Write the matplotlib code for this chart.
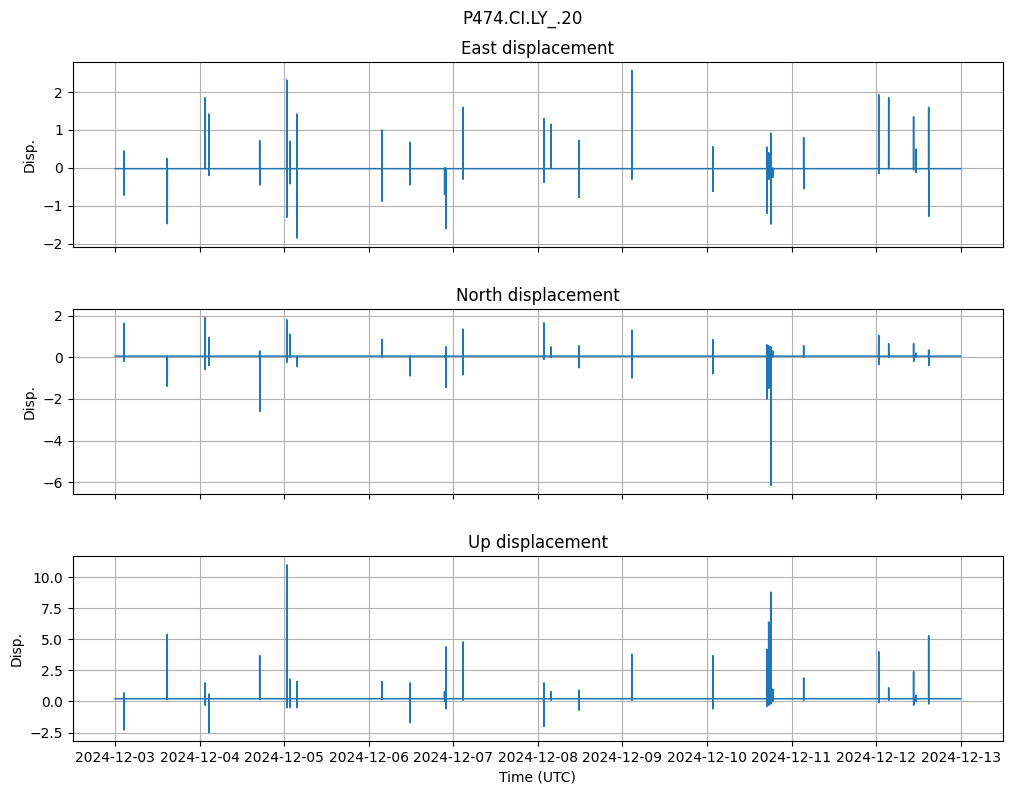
import matplotlib
matplotlib.use("Agg")
import matplotlib.pyplot as plt
import matplotlib.dates as mdates
import pandas as pd

station = "P474.CI.LY_.20"
start_time = "2024-12-03 00:00"
end_time = "2024-12-13 00:00"

# baseline level of each component
east_base = -0.02
north_base = 0.05
up_base = 0.22

# transient events (time, peak high, peak low per component)
event_times = [
    "2024-12-03 02:33", "2024-12-03 14:46", "2024-12-04 01:32", "2024-12-04 02:38",
    "2024-12-04 17:02", "2024-12-05 00:43", "2024-12-05 01:40", "2024-12-05 03:38",
    "2024-12-06 03:45", "2024-12-06 11:41", "2024-12-06 21:30", "2024-12-06 21:54",
    "2024-12-07 02:43", "2024-12-08 01:42", "2024-12-08 03:42", "2024-12-08 11:38",
    "2024-12-09 02:40", "2024-12-10 01:39", "2024-12-10 16:58", "2024-12-10 17:31",
    "2024-12-10 18:06", "2024-12-10 18:40", "2024-12-11 03:27", "2024-12-12 00:45",
    "2024-12-12 03:35", "2024-12-12 10:39", "2024-12-12 11:20", "2024-12-12 14:56",
]
east_hi = [0.45, 0.25, 1.85, 1.42, 0.72, 2.32, 0.70, 1.42,
           1.00, 0.68, 0.00, 0.00, 1.60, 1.30, 1.15, 0.73,
           2.57, 0.56, 0.55, 0.40, 0.92, 0.00, 0.80, 1.93,
           1.85, 1.35, 0.50, 1.60]
east_lo = [-0.72, -1.47, -0.02, -0.20, -0.45, -1.30, -0.42, -1.85,
           -0.88, -0.45, -0.70, -1.60, -0.30, -0.38, -0.02, -0.78,
           -0.30, -0.62, -1.20, -0.30, -1.48, -0.25, -0.55, -0.15,
           -0.02, -0.05, -0.12, -1.28]
north_hi = [1.63, 0.05, 1.90, 0.95, 0.30, 1.80, 1.10, 0.05,
            0.85, 0.05, 0.05, 0.50, 1.35, 1.65, 0.50, 0.55,
            1.30, 0.85, 0.60, 0.55, 0.50, 0.30, 0.55, 1.05,
            0.65, 0.65, 0.20, 0.35]
north_lo = [-0.20, -1.40, -0.60, -0.40, -2.60, -0.25, 0.00, -0.45,
            0.00, -0.90, 0.00, -1.45, -0.85, -0.10, 0.00, -0.50,
            -1.00, -0.80, -2.00, -1.50, -6.15, 0.00, 0.00, -0.35,
            0.00, -0.20, 0.00, -0.40]
up_hi = [0.70, 5.40, 1.50, 0.60, 3.70, 11.00, 1.80, 1.60,
         1.60, 1.50, 0.80, 4.40, 4.80, 1.50, 0.80, 0.90,
         3.80, 3.70, 4.20, 6.40, 8.80, 1.00, 1.90, 4.00,
         1.10, 2.40, 0.50, 5.30]
up_lo = [-2.30, 0.15, -0.30, -2.50, 0.15, -0.50, -0.50, -0.50,
         0.15, -1.70, 0.00, -0.60, 0.10, -2.00, 0.10, -0.70,
         0.10, -0.60, -0.40, -0.30, -0.20, 0.00, 0.10, -0.10,
         0.10, -0.30, 0.00, -0.20]


def build_series(base, hi, lo):
    t = [pd.Timestamp(start_time)]
    v = [base]
    step = pd.Timedelta(minutes=2)
    for et, h, l in zip(event_times, hi, lo):
        et = pd.Timestamp(et)
        t += [et - step, et, et + step, et + 2 * step]
        v += [base, h, l, base]
    t.append(pd.Timestamp(end_time))
    v.append(base)
    return pd.Series(v, index=pd.DatetimeIndex(t))


components = [
    ("East displacement", build_series(east_base, east_hi, east_lo)),
    ("North displacement", build_series(north_base, north_hi, north_lo)),
    ("Up displacement", build_series(up_base, up_hi, up_lo)),
]

fig, axes = plt.subplots(3, 1, figsize=(10.12, 7.95), dpi=100, sharex=True)
fig.subplots_adjust(left=0.072, right=0.991, top=0.922, bottom=0.068, hspace=0.34)
fig.suptitle(station, fontsize=12, x=0.516, y=0.987)

for ax, (title, s) in zip(axes, components):
    ax.plot(s.index, s.values, color="tab:blue", lw=1.1)
    ax.set_title(title)
    ax.set_ylabel("Disp.")
    ax.grid(True)

axes[-1].set_xlabel("Time (UTC)")
axes[-1].xaxis.set_major_locator(mdates.DayLocator())
axes[-1].xaxis.set_major_formatter(mdates.DateFormatter("%Y-%m-%d"))

fig.savefig("out.png", dpi=100)
